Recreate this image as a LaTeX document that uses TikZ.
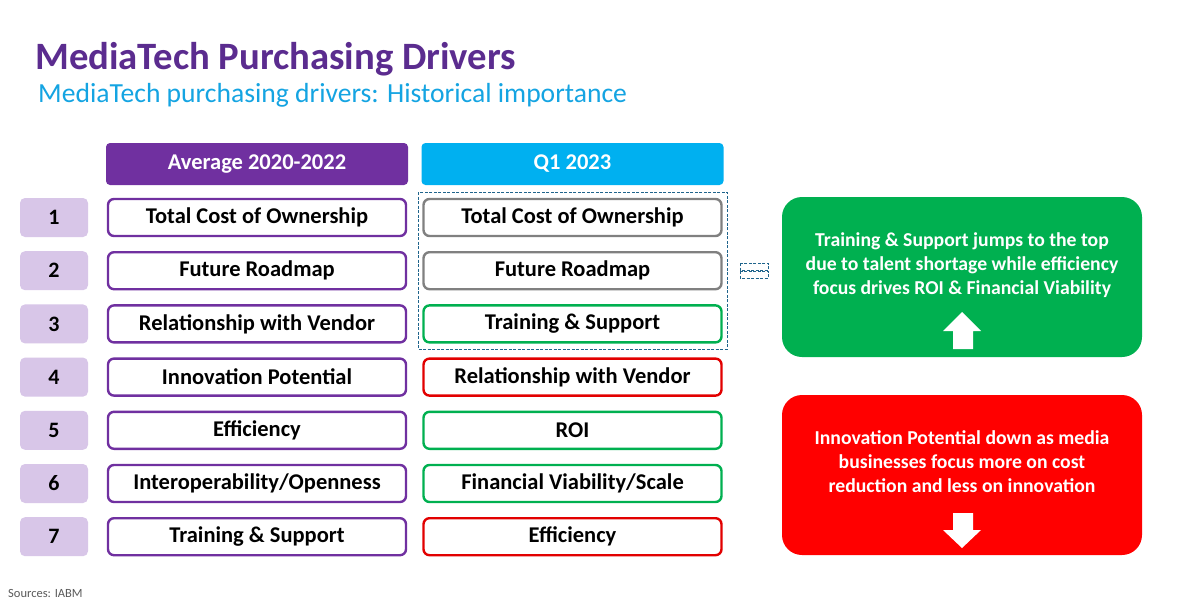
\documentclass[tikz,border=0pt]{standalone}
\usepackage{fontspec}
\setmainfont{Carlito}
\definecolor{titlepurple}{RGB}{91,44,143}
\definecolor{subcyan}{RGB}{20,164,226}
\definecolor{headpurple}{RGB}{112,48,160}
\definecolor{headcyan}{RGB}{0,176,240}
\definecolor{numfill}{RGB}{216,198,232}
\definecolor{boxgray}{RGB}{128,128,128}
\definecolor{boxgreen}{RGB}{0,176,80}
\definecolor{boxred}{RGB}{226,0,0}
\definecolor{fillred}{RGB}{255,0,0}
\definecolor{dashblue}{RGB}{31,100,140}
\definecolor{srcgray}{RGB}{90,90,90}
\tikzset{
  headbox/.style={rounded corners=4pt, minimum width=302pt, minimum height=42pt, inner sep=0, text=white, font=\fontsize{22.5}{26}\selectfont\bfseries},
  numbox/.style={rounded corners=5pt, fill=numfill, minimum width=68pt, minimum height=39pt, inner sep=0, font=\fontsize{22}{26}\selectfont\bfseries},
  itembox/.style={rounded corners=6pt, draw=#1, line width=2.4pt, fill=white, minimum width=298pt, minimum height=37pt, inner sep=0, font=\fontsize{22.5}{26}\selectfont\bfseries},
  notebox/.style={rounded corners=20pt, fill=#1, minimum width=360pt, minimum height=160pt, inner sep=0},
  notetext/.style={text=white, align=center, font=\fontsize{19.7}{24}\selectfont\bfseries, inner sep=0},
  arrowshape/.style={fill=white, draw=none}
}
\begin{document}
\begin{tikzpicture}[x=1pt,y=-1pt]
\useasboundingbox[fill=white] (0,0) rectangle (1200,606);
\node[anchor=base west, inner sep=0, text=titlepurple, font=\fontsize{38.7}{44}\selectfont\bfseries] (title) at (35,69) {MediaTech Purchasing Drivers};
\node[anchor=base west, inner sep=0, text=subcyan, font=\fontsize{27.6}{32}\selectfont] (subtitle) at (38,102) {MediaTech purchasing drivers: Historical importance};

\node[headbox, fill=headpurple] (hleft) at (257,164) {Average 2020-2022};
\node[headbox, fill=headcyan] (hright) at (572.5,164) {Q1 2023};

\foreach \i/\y in {1/217.5,2/270.7,3/323.9,4/377.1,5/430.3,6/483.5,7/536.7}{
  \node[numbox] (n\i) at (54,\y) {\i};
}
\node[itembox=headpurple] (l1) at (257,217.5) {Total Cost of Ownership};
\node[itembox=headpurple] (l2) at (257,270.7) {Future Roadmap};
\node[itembox=headpurple] (l3) at (257,323.9) {Relationship with Vendor};
\node[itembox=headpurple] (l4) at (257,377.1) {Innovation Potential};
\node[itembox=headpurple] (l5) at (257,430.3) {Efficiency};
\node[itembox=headpurple] (l6) at (257,483.5) {Interoperability/Openness};
\node[itembox=headpurple] (l7) at (257,536.7) {Training \& Support};

\node[itembox=boxgray] (r1) at (572.5,217.5) {Total Cost of Ownership};
\node[itembox=boxgray] (r2) at (572.5,270.7) {Future Roadmap};
\node[itembox=boxgreen] (r3) at (572.5,323.9) {Training \& Support};
\node[itembox=boxred] (r4) at (572.5,377.1) {Relationship with Vendor};
\node[itembox=boxgreen] (r5) at (572.5,430.3) {ROI};
\node[itembox=boxgreen] (r6) at (572.5,483.5) {Financial Viability/Scale};
\node[itembox=boxred] (r7) at (572.5,536.7) {Efficiency};

\draw[dashblue, line width=0.9pt, dash pattern=on 3pt off 1.5pt] (418,192) rectangle (727,349);
\draw[dashblue, line width=0.9pt, dash pattern=on 3pt off 1.5pt] (740,263) rectangle (768,270);
\draw[dashblue, line width=0.9pt, dash pattern=on 3pt off 1.5pt] (740,271) rectangle (768,278);

\node[notebox=boxgreen] (g) at (962,277) {};
\node[notetext] (gt) at (962,265) {Training \& Support jumps to the top\\due to talent shortage while efficiency\\focus drives ROI \& Financial Viability};
\fill[arrowshape] (962,312) -- (981,331) -- (973,331) -- (973,349) -- (953,349) -- (953,331) -- (943,331) -- cycle;

\node[notebox=fillred] (r) at (962,475) {};
\node[notetext] (rt) at (962,462) {Innovation Potential down as media\\businesses focus more on cost\\reduction and less on innovation};
\fill[arrowshape] (962,548) -- (981,530) -- (973,530) -- (973,513) -- (953,513) -- (953,530) -- (943,530) -- cycle;

\node[anchor=base west, inner sep=0, text=srcgray, font=\fontsize{12.5}{15}\selectfont] (src) at (8,597) {Sources: IABM};
\end{tikzpicture}
\end{document}
